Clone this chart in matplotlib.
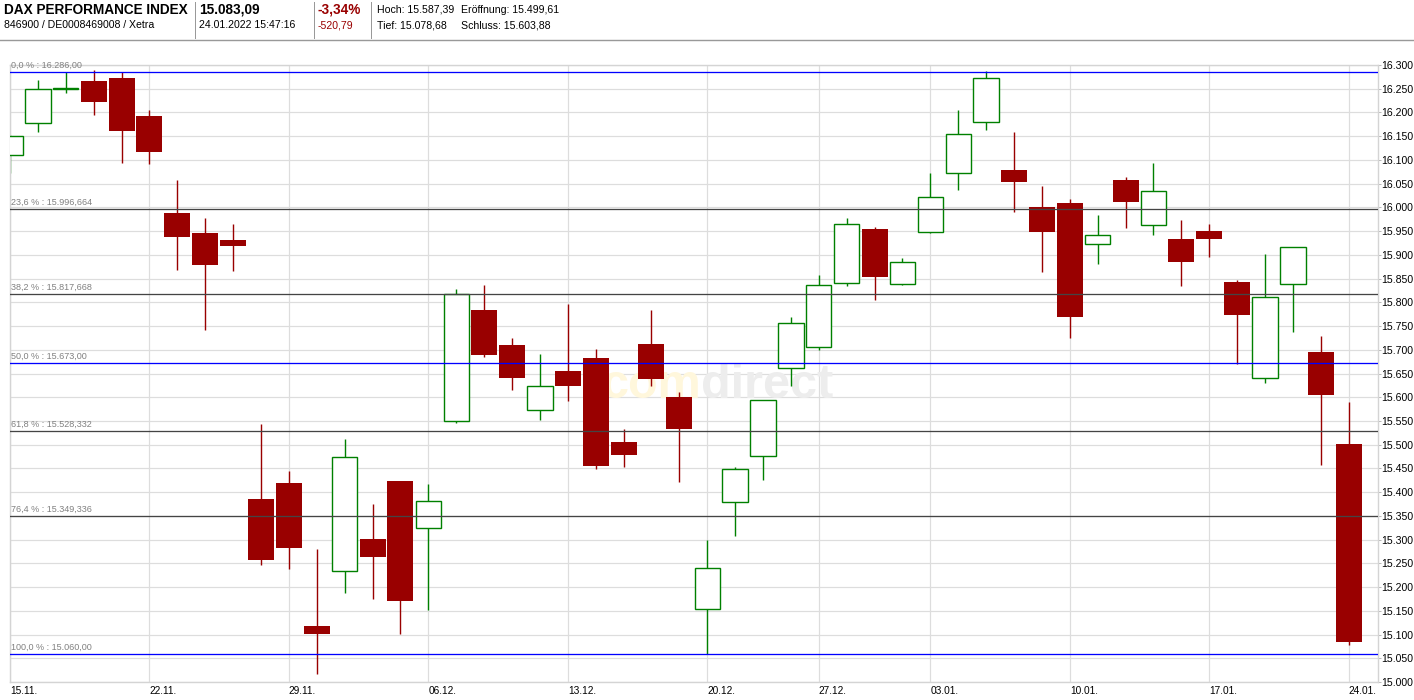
import matplotlib
matplotlib.use("Agg")
import matplotlib.pyplot as plt

plt.rcParams["font.family"] = ["Liberation Sans", "DejaVu Sans"]

# trading days shown in the chart
dates = ["15.11.", "16.11.", "17.11.", "18.11.", "19.11.",
         "22.11.", "23.11.", "24.11.", "25.11.", "26.11.",
         "29.11.", "30.11.", "01.12.", "02.12.", "03.12.",
         "06.12.", "07.12.", "08.12.", "09.12.", "10.12.",
         "13.12.", "14.12.", "15.12.", "16.12.", "17.12.",
         "20.12.", "21.12.", "22.12.", "23.12.",
         "27.12.", "28.12.", "29.12.", "30.12.",
         "03.01.", "04.01.", "05.01.", "06.01.", "07.01.",
         "10.01.", "11.01.", "12.01.", "13.01.", "14.01.",
         "17.01.", "18.01.", "19.01.", "20.01.", "21.01.",
         "24.01."]

opens = [16111, 16177, 16249, 16266, 16272, 16192, 15989, 15945, 15931, 15386,
         15420, 15118, 15234, 15302, 15424, 15325, 15549, 15783, 15709, 15573,
         15656, 15682, 15506, 15712, 15601, 15154, 15379, 15476, 15662, 15706,
         15841, 15955, 15839, 15949, 16072, 16179, 16078, 16001, 16009, 15922,
         16057, 15962, 15933, 15951, 15842, 15640, 15839, 15696, 15502]
highs = [16152, 16268, 16286, 16290, 16286, 16205, 16057, 15977, 15964, 15543,
         15444, 15281, 15511, 15376, 15424, 15418, 15829, 15836, 15724, 15692,
         15796, 15701, 15534, 15783, 15612, 15299, 15454, 15595, 15770, 15857,
         15977, 15958, 15893, 16072, 16205, 16287, 16158, 16046, 16017, 15984,
         16063, 16093, 15973, 15964, 15846, 15901, 15916, 15730, 15589]
lows = [16072, 16159, 16241, 16195, 16094, 16092, 15868, 15742, 15866, 15246,
        15238, 15016, 15187, 15174, 15102, 15151, 15545, 15685, 15615, 15552,
        15592, 15449, 15453, 15623, 15421, 15060, 15307, 15425, 15623, 15700,
        15835, 15805, 15837, 15945, 16037, 16163, 15990, 15864, 15725, 15880,
        15956, 15942, 15834, 15895, 15670, 15630, 15737, 15457, 15079]
closes = [16151, 16250, 16252, 16222, 16161, 16117, 15938, 15878, 15919, 15257,
          15282, 15101, 15474, 15263, 15170, 15381, 15817, 15689, 15640, 15624,
          15623, 15455, 15478, 15638, 15533, 15240, 15449, 15595, 15756, 15837,
          15966, 15853, 15885, 16022, 16155, 16273, 16054, 15948, 15769, 15942,
          16011, 16034, 15884, 15934, 15773, 15812, 15916, 15605, 15084]

week_labels = ["15.11.", "22.11.", "29.11.", "06.12.", "13.12.", "20.12.",
               "27.12.", "03.01.", "10.01.", "17.01.", "24.01."]

fib_high = 16286.0
fib_low = 15060.0
fib_ratios = [0.0, 0.236, 0.382, 0.5, 0.618, 0.764, 1.0]
fib_labels = ["0,0 % : 16.286,00", "23,6 % : 15.996,664", "38,2 % : 15.817,668",
              "50,0 % : 15.673,00", "61,8 % : 15.528,332", "76,4 % : 15.349,336",
              "100,0 % : 15.060,00"]

RED = "#990000"
GREEN = "#008000"
W, H = 1414, 700
px = 0.72  # one pixel in points

fig = plt.figure(figsize=(W / 100, H / 100), dpi=100)
fig.patch.set_facecolor("white")

# header
def ftext(x, y, s, **kw):
    fig.text(x / W, 1 - y / H, s, va="center", ha="left", **kw)

ftext(4, 10, "DAX PERFORMANCE INDEX", fontsize=9.8, fontweight="bold")
ftext(4, 25, "846900 / DE0008469008 / Xetra", fontsize=7.6)
ftext(199, 10, "15.083,09", fontsize=9.8, fontweight="bold")
ftext(199, 25, "24.01.2022 15:47:16", fontsize=7.6)
ftext(318, 10, "-3,34%", fontsize=9.8, fontweight="bold", color=RED)
ftext(318, 25, "-520,79", fontsize=7.6, color=RED)
ftext(377, 10, "Hoch: 15.587,39", fontsize=7.6)
ftext(461, 10, "Eröffnung: 15.499,61", fontsize=7.6)
ftext(377, 25, "Tief: 15.078,68", fontsize=7.6)
ftext(461, 25, "Schluss: 15.603,88", fontsize=7.6)
for sx in [195, 314, 371]:
    fig.add_artist(plt.Line2D([sx / W, sx / W], [1 - 2 / H, 1 - 38 / H],
                              color="#999999", lw=px))
fig.add_artist(plt.Line2D([0, 1], [1 - 40 / H, 1 - 40 / H], color="#999999", lw=1.4 * px))

# chart area
left, right, top, bottom = 10, 1378, 65, 682
ax = fig.add_axes([left / W, 1 - bottom / H, (right - left) / W, (bottom - top) / H])
ax.set_xlim(0, 49.05)
ax.set_ylim(15000, 16300)

yt = list(range(15000, 16301, 50))
ax.set_yticks(yt)
ax.set_yticklabels([f"{v:,}".replace(",", ".") for v in yt])
ax.yaxis.tick_right()
ax.tick_params(axis="y", labelsize=7.6, length=2, width=px, color="#bbbbbb", pad=0)

xt = [dates.index(d) for d in week_labels]
ax.set_xticks(xt)
ax.set_xticklabels(week_labels, ha="left")
ax.tick_params(axis="x", labelsize=7.3, length=0, pad=3)

ax.grid(True, color="#dddddd", lw=1.2 * px, zorder=0)
ax.set_axisbelow(True)
for sp in ax.spines.values():
    sp.set_color("#d4d4d4")
    sp.set_linewidth(1.4 * px)

# watermark
ax.text(0.505, 0.48, "com", transform=ax.transAxes, fontsize=35, fontweight="bold",
        color="#fff7dc", ha="right", va="center", zorder=1)
ax.text(0.505, 0.48, "direct", transform=ax.transAxes, fontsize=35, fontweight="bold",
        color="#ededed", ha="left", va="center", zorder=1)

# candles
xs = list(range(len(dates)))
for i in xs:
    o, h, l, c = opens[i], highs[i], lows[i], closes[i]
    col = GREEN if c >= o else RED
    ax.vlines(i, l, h, color=col, lw=1.4 * px, zorder=2)
    lo, hi = min(o, c), max(o, c)
    hgt = max(hi - lo, 3)
    if c >= o:
        ax.bar(i, hgt, bottom=lo, width=0.91, facecolor="white", edgecolor=GREEN,
               lw=1.4 * px, zorder=3)
    else:
        ax.bar(i, hgt, bottom=lo, width=0.93, color=RED, lw=0, zorder=3)

# fibonacci retracement lines
for r, lab in zip(fib_ratios, fib_labels):
    lvl = fib_high - r * (fib_high - fib_low)
    col = "#0000ff" if r in (0.0, 0.5, 1.0) else "#444444"
    ax.axhline(lvl, color=col, lw=1.3 * px, zorder=4)
    ax.annotate(lab, (0, lvl), xytext=(1, 1.5), textcoords="offset points",
                fontsize=6.5, color="#808080", ha="left", va="bottom", zorder=5)

fig.savefig("out.png", dpi=100, facecolor="white")
